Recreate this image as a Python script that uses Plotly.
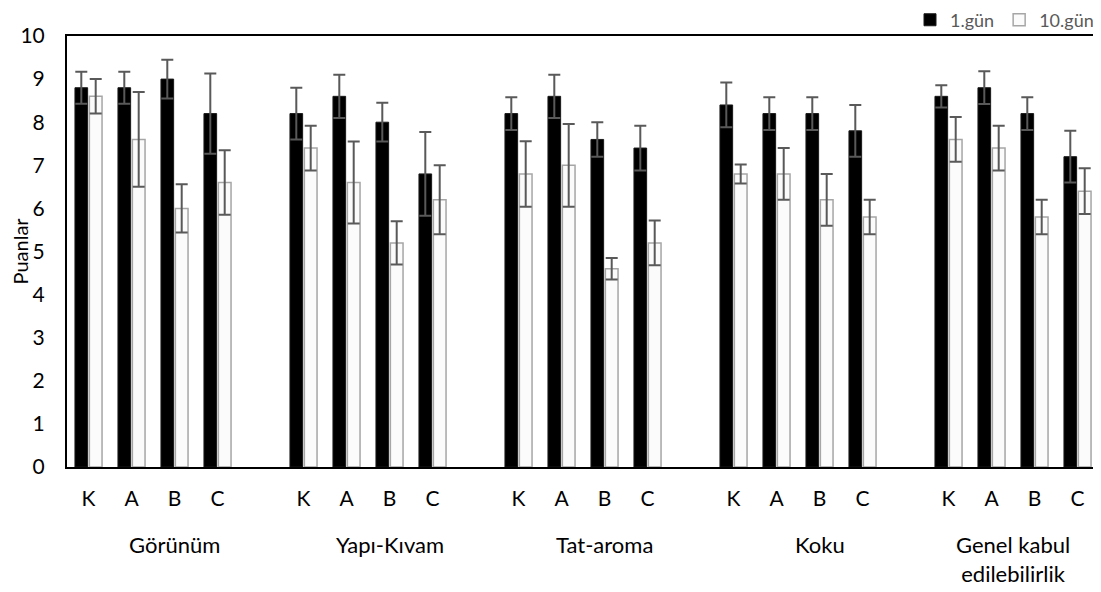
import plotly.graph_objects as go

groups = ["Görünüm", "Yapı-Kıvam", "Tat-aroma", "Koku", "Genel kabul<br>edilebilirlik"]
samples = ["K", "A", "B", "C"]

day1 = [8.8, 8.8, 9.0, 8.2,
        8.2, 8.6, 8.0, 6.8,
        8.2, 8.6, 7.6, 7.4,
        8.4, 8.2, 8.2, 7.8,
        8.6, 8.8, 8.2, 7.2]
day1_err = [0.37, 0.37, 0.45, 0.93,
            0.6, 0.5, 0.45, 0.97,
            0.38, 0.5, 0.4, 0.52,
            0.52, 0.38, 0.38, 0.6,
            0.26, 0.38, 0.38, 0.6]
day10 = [8.6, 7.6, 6.0, 6.6,
         7.4, 6.6, 5.2, 6.2,
         6.8, 7.0, 4.6, 5.2,
         6.8, 6.8, 6.2, 5.8,
         7.6, 7.4, 5.8, 6.4]
day10_err = [0.4, 1.1, 0.56, 0.75,
             0.52, 0.95, 0.5, 0.8,
             0.76, 0.96, 0.25, 0.52,
             0.22, 0.6, 0.6, 0.4,
             0.52, 0.52, 0.4, 0.53]

# positions: 4 samples per group plus one empty slot between groups
xpos = [g * 5 + i for g in range(len(groups)) for i in range(len(samples))]
ticktext = [s for g in range(len(groups)) for s in samples]

FONT = "Lato, 'Open Sans', sans-serif"

fig = go.Figure()
fig.add_trace(go.Bar(
    x=xpos, y=day1, name="1.gün",
    marker=dict(color="#000000", line=dict(color="#1a1a1a", width=1)),
    error_y=dict(type="data", array=day1_err, visible=True,
                 color="#595959", thickness=2, width=6),
))
fig.add_trace(go.Bar(
    x=xpos, y=day10, name="10.gün",
    marker=dict(color="#fbfbfb", line=dict(color="#a6a6a6", width=1.5)),
    error_y=dict(type="data", array=day10_err, visible=True,
                 color="#595959", thickness=2, width=6),
))

for g, name in enumerate(groups):
    last = g == len(groups) - 1
    center = g * 5 + (1.5 if last else 2)
    fig.add_annotation(
        x=center, y=0, xref="x", yref="paper",
        text=name, showarrow=False, yanchor="top", yshift=-62,
        font=dict(family=FONT, size=22, color="#000000"),
    )

# y-axis title placed left of the tick labels
fig.add_annotation(
    x=0, y=0.5, xref="paper", yref="paper", text="Puanlar",
    textangle=-90, showarrow=False, xanchor="center", yanchor="middle",
    xshift=-48, font=dict(family=FONT, size=20, color="#000000"),
)

# page body has an 8px margin, so the figure is sized/offset to compensate
fig.update_layout(
    width=1093, height=584,
    paper_bgcolor="white", plot_bgcolor="white",
    margin=dict(l=59, r=2, t=28, b=125, autoexpand=False),
    barmode="group", bargap=0.33, bargroupgap=0.12,
    font=dict(family=FONT, size=21, color="#000000"),
    showlegend=True,
    legend=dict(orientation="h", x=1.0, xanchor="right", y=1.037, yanchor="middle",
                font=dict(family=FONT, size=18, color="#595959"),
                itemwidth=30, tracegroupgap=0, bgcolor="rgba(0,0,0,0)",
                borderwidth=0),
    xaxis=dict(
        range=[-0.5, 23.5], tickmode="array", tickvals=xpos, ticktext=ticktext,
        showgrid=False, zeroline=False, showline=True, linecolor="#000000",
        linewidth=2, mirror=True, ticks="", ticklabelstandoff=12,
        automargin=False,
        tickfont=dict(family=FONT, size=21, color="#000000"),
    ),
    yaxis=dict(
        range=[0, 10], dtick=1, tick0=0,
        showgrid=False, zeroline=False, showline=True, linecolor="#000000",
        linewidth=2, mirror=True, ticks="", ticklabelstandoff=16,
        automargin=False,
        tickfont=dict(family=FONT, size=21, color="#000000"),
    ),
)

fig.write_html("out.html")
